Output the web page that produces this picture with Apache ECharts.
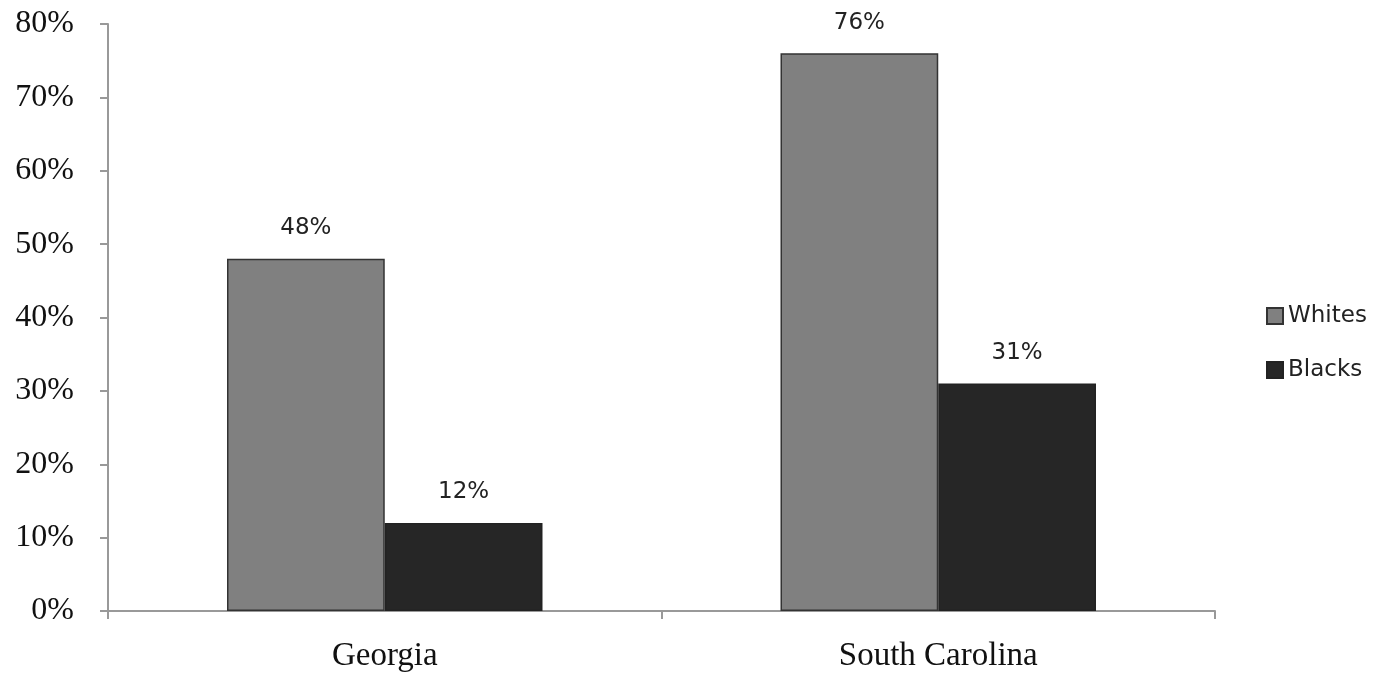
<!DOCTYPE html>
<html>
<head>
<meta charset="utf-8">
<script src="https://cdn.jsdelivr.net/npm/echarts@6/dist/echarts.min.js"></script>
<style>
  html, body { margin: 0; padding: 0; background: #fff; }
  #chart { width: 1391px; height: 675px; }
</style>
</head>
<body>
<div id="chart"></div>
<script>
// Share of each group, by state (percent)
const states = ['Georgia', 'South Carolina'];
const whites = [48, 76];
const blacks = [12, 31];
const seriesNames = ['Whites', 'Blacks'];

const chart = echarts.init(document.getElementById('chart'));

const sansFont = 'DejaVu Sans, Open Sans, sans-serif';
const serifFont = 'Liberation Serif, Times New Roman, serif';

const labelStyle = {
  show: true,
  position: 'top',
  distance: 19,
  formatter: p => p.value + '%',
  fontFamily: sansFont,
  fontSize: 23,
  color: '#222'
};

chart.setOption({
  animation: false,
  grid: { left: 108, right: 176, top: 24, bottom: 64 },
  legend: {
    orient: 'vertical',
    left: 1261,
    top: 299,
    itemWidth: 16,
    itemHeight: 16,
    itemGap: 30,
    icon: 'rect',
    data: seriesNames,
    textStyle: {
      fontFamily: sansFont,
      fontSize: 23,
      lineHeight: 24,
      color: '#222',
      padding: [0, 0, 0, 0]
    }
  },
  xAxis: {
    type: 'category',
    data: states,
    axisLine: { lineStyle: { color: '#999', width: 2 } },
    axisTick: { show: true, alignWithLabel: false, length: 8, lineStyle: { color: '#999', width: 2 } },
    axisLabel: {
      fontFamily: serifFont,
      fontSize: 33,
      color: '#111',
      margin: 29
    }
  },
  yAxis: {
    type: 'value',
    min: 0,
    max: 80,
    interval: 10,
    axisLine: { show: true, lineStyle: { color: '#999', width: 2 } },
    axisTick: { show: true, length: 8, lineStyle: { color: '#999', width: 2 } },
    splitLine: { show: false },
    axisLabel: {
      formatter: '{value}%',
      fontFamily: serifFont,
      fontSize: 32,
      color: '#111',
      margin: 34
    }
  },
  series: [
    {
      name: seriesNames[0],
      type: 'bar',
      data: whites,
      barWidth: '28.5%',
      barGap: '0%',
      itemStyle: { color: '#808080', borderColor: '#333', borderWidth: 1.5 },
      label: labelStyle
    },
    {
      name: seriesNames[1],
      type: 'bar',
      data: blacks,
      barWidth: '28.5%',
      itemStyle: { color: '#262626', borderColor: '#222', borderWidth: 1.5 },
      label: labelStyle
    }
  ]
});
</script>
</body>
</html>
